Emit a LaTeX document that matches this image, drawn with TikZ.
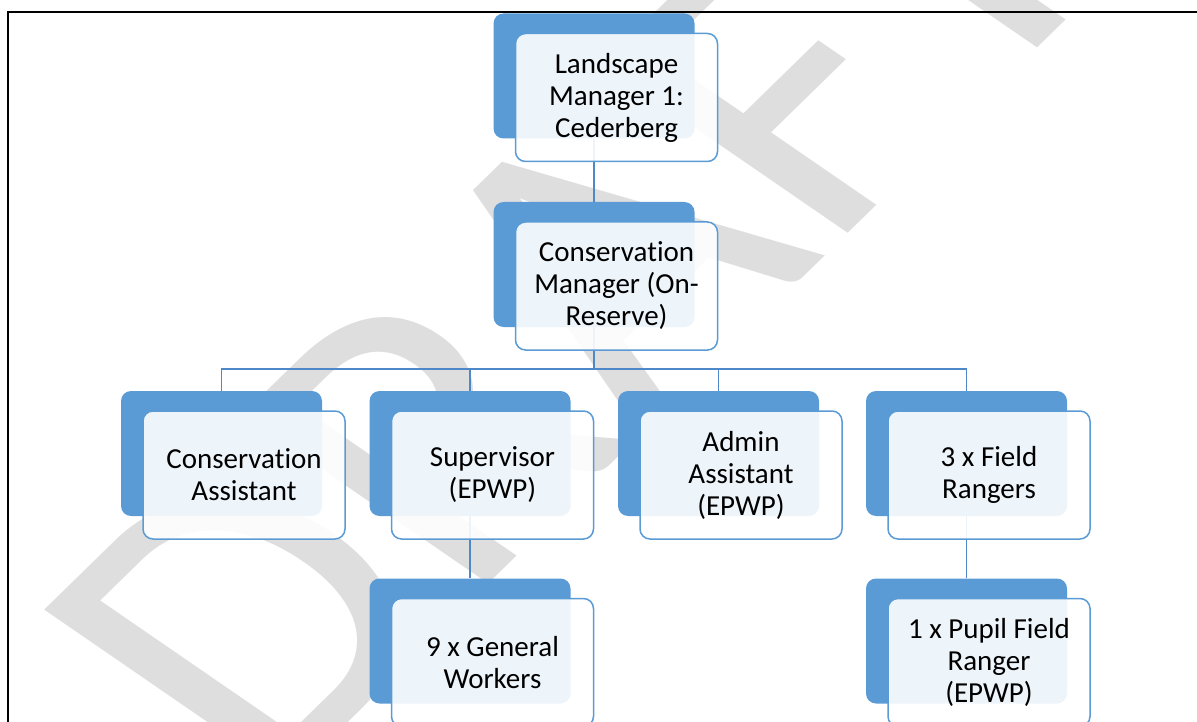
\documentclass[tikz,border=0pt]{standalone}
\usepackage{fontspec}
\setmainfont[Ligatures=NoCommon]{Carlito}
\definecolor{smartblue}{RGB}{91,155,213}
\definecolor{linkblue}{RGB}{79,136,200}
\definecolor{wmgray}{RGB}{222,222,222}
\begin{document}
\begin{tikzpicture}[x=1pt, y=1pt,
    back/.style={rectangle, rounded corners=10pt, fill=smartblue, minimum width=201pt, minimum height=125pt, inner sep=0pt},
    card/.style={rectangle, rounded corners=10pt, draw=smartblue, line width=1.5pt, fill=white, fill opacity=0.9, text opacity=1, minimum width=202pt, minimum height=128pt, inner sep=0pt, align=center, font=\fontsize{29}{32}\selectfont, xshift=22.5pt, yshift=-21.5pt},
    link/.style={draw=linkblue, line width=1.8pt}
]
    \useasboundingbox (0,0) rectangle (1197,-722);
    \clip (0,0) rectangle (1197,-722);

    % watermark
    \begin{scope}[shift={(268,-800)}, yscale=0.82, rotate=50, transform shape]
        \node[anchor=base west, inner sep=0pt, outer sep=0pt, text=wmgray, font=\fontsize{500}{500}\selectfont] (draft) at (0,0) {DRAFT};
    \end{scope}

    % frame
    \draw[line width=2pt] (8,-12) rectangle (1240,-760);

    % back shapes
    \node[back] (lmB) at (594,-76) {};
    \node[back] (cmB) at (594,-264.5) {};
    \node[back] (caB) at (221.5,-453.5) {};
    \node[back] (supB) at (470,-453.5) {};
    \node[back] (adB) at (718.5,-453.5) {};
    \node[back] (frB) at (966.5,-453.5) {};
    \node[back] (gwB) at (470,-641) {};
    \node[back] (pfrB) at (966.5,-641) {};

    % connectors
    \coordinate (bus) at (594,-369);
    \draw[link] (lmB.south) -- (cmB.north);
    \draw[link] (cmB.south) -- (bus);
    \foreach \kid in {caB, supB, adB, frB}
        \draw[link] (bus) -| (\kid.north);
    \draw[link] (supB.south) -- (gwB.north);
    \draw[link] (frB.south) -- (pfrB.north);

    % front cards
    \node[card] (lm) at (lmB) {Landscape\\Manager 1:\\Cederberg};
    \node[card] (cm) at (cmB) {Conservation\\Manager (On-\\Reserve)};
    \node[card] (ca) at (caB) {Conservation\\Assistant};
    \node[card] (sup) at (supB) {Supervisor\\(EPWP)};
    \node[card] (ad) at (adB) {Admin\\Assistant\\(EPWP)};
    \node[card] (fr) at (frB) {3 x Field\\Rangers};
    \node[card] (gw) at (gwB) {9 x General\\Workers};
    \node[card] (pfr) at (pfrB) {1 x Pupil Field\\Ranger\\(EPWP)};
\end{tikzpicture}
\end{document}
